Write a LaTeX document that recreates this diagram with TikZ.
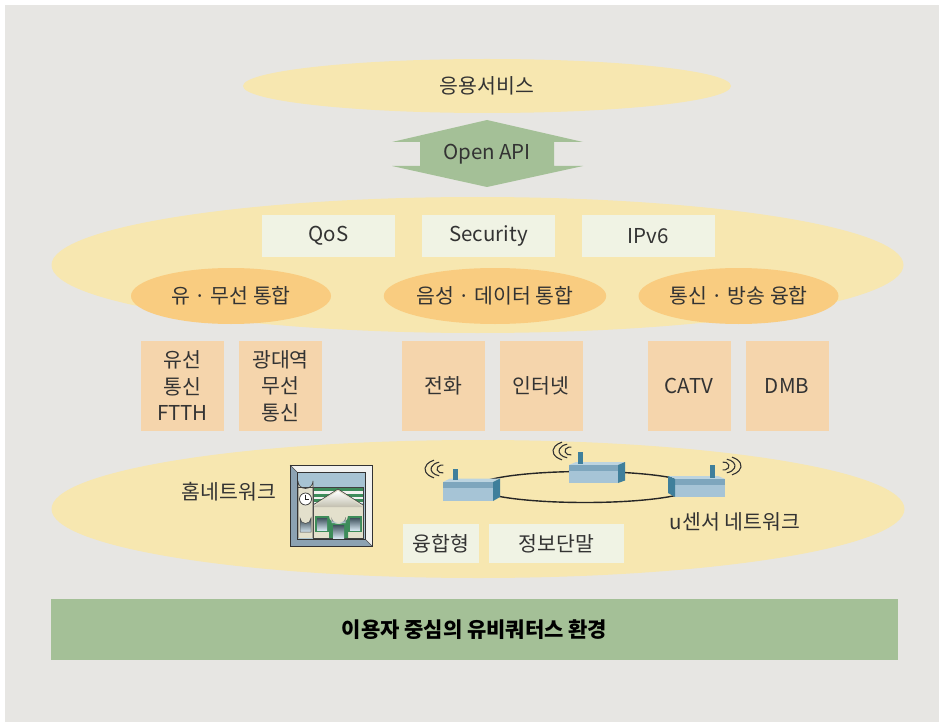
\documentclass[tikz,border=0pt]{standalone}
\usepackage{fontspec}
\setmainfont{Noto Sans CJK KR}
\usetikzlibrary{shapes.geometric}

\definecolor{bg}{HTML}{E7E6E3}
\definecolor{cream}{HTML}{F7E7B0}
\definecolor{orangeel}{HTML}{F9CC80}
\definecolor{peach}{HTML}{F5D5AC}
\definecolor{pale}{HTML}{F0F3E4}
\definecolor{sage}{HTML}{A4C097}
\definecolor{txt}{HTML}{333333}
\definecolor{devfront}{HTML}{A6C4D6}
\definecolor{devband}{HTML}{7EA6BD}
\definecolor{devtop}{HTML}{BCD4E0}
\definecolor{devside}{HTML}{3F7F9B}
\definecolor{sky}{HTML}{A7C3D3}
\definecolor{framedark}{HTML}{8CA2B2}
\definecolor{framelight}{HTML}{F2F2F0}
\definecolor{stone}{HTML}{E3E0CC}
\definecolor{roofgreen}{HTML}{3D8C5A}
\definecolor{glass}{HTML}{8FB9D2}

\tikzset{
  label/.style={text=txt, font=\fontsize{20.5}{26.5}\selectfont, inner sep=0pt, align=center},
  layer/.style={ellipse, fill=cream, inner sep=0pt},
  conv/.style={ellipse, fill=orangeel, inner sep=0pt, minimum width=200, minimum height=56, label},
  feature/.style={rectangle, fill=pale, inner sep=0pt, label},
  netbox/.style={rectangle, fill=peach, inner sep=0pt, minimum width=83, minimum height=90, label},
  ring/.style={draw=black!85, line width=1.4},
  wave/.style={draw=black!80, line width=1.1},
}

\begin{document}
\begin{tikzpicture}[x=1pt,y=-1pt]
\useasboundingbox (0,0) rectangle (939,722);
\fill[white] (0,0) rectangle (939,722);
\fill[bg] (5,5) rectangle (939,722);

% service layer
\node[layer, minimum width=488, minimum height=54] (svc) at (487,86) {};
\node[label] (svctext) at (487,86) {응용서비스};

% Open API double arrow
\fill[sage] (487,120) -- (583,142) -- (554,142) -- (554,166) -- (583,166)
  -- (487,187) -- (392,166) -- (420,166) -- (420,142) -- (392,142) -- cycle;
\node[label] (api) at (487,154) {Open API};

% convergence layer
\node[layer, minimum width=852, minimum height=136] (core) at (477.5,265) {};
\node[feature, minimum width=133, minimum height=42] (qos) at (328.5,236) {QoS};
\node[feature, minimum width=133, minimum height=42] (sec) at (488.5,236) {Security};
\node[feature, minimum width=133, minimum height=42] (ipv6) at (648.5,236) {IPv6};
\node[conv] (wire) at (231,296) {유 · 무선 통합};
\node[conv] (voice) at (495,296) {음성 · 데이터 통합};
\node[conv] (bcast) at (738.5,296) {통신 · 방송 융합};

% access networks
\node[netbox] (ftth) at (182.5,386) {유선\\통신\\FTTH};
\node[netbox] (wibro) at (280.5,386) {광대역\\무선\\통신};
\node[netbox] (phone) at (443,386) {전화};
\node[netbox] (inet) at (541,386) {인터넷};
\node[netbox] (catv) at (689,386) {CATV};
\node[netbox] (dmb) at (787,386) {DMB};

% home / sensor layer
\node[layer, minimum width=853, minimum height=138] (home) at (478,509) {};
\node[label] (homenet) at (229,492) {홈네트워크};
\node[feature, minimum width=76, minimum height=39] (fusion) at (441,543.5) {융합형};
\node[feature, minimum width=135, minimum height=39] (term) at (556.5,543.5) {정보단말};
\node[label] (usn) at (735,522) {u센서 네트워크};

% house icon: bevelled frame
\fill[framedark] (290,465) rectangle (372,546);
\fill[framelight] (290,465) -- (372,465) -- (372,546) -- (365,539) -- (365,472) -- (297,472) -- cycle;
\draw[black!70, line width=0.5] (290,465) -- (297,472) (372,546) -- (365,539);
\draw[black!80, line width=0.7] (290,465) rectangle (372,546);
\fill[sky] (297,472) rectangle (365,539);
% roof stripes
\fill[framelight] (313,487) rectangle (363,503);
\foreach \y in {488,493.5,499} {\fill[roofgreen] (313,\y) rectangle (363,\y+3);}
% gable and walls
\fill[stone] (313,538) -- (313,505) -- (338,489) -- (363,505) -- (363,538) -- cycle;
\shade[top color=white, bottom color=stone!85!black] (313,507) -- (338,491) -- (363,507) -- cycle;
\draw[black!75, line width=0.6] (313,505) -- (338,489) -- (363,505);
\draw[black!75, line width=0.6] (313,487) rectangle (363,538);
% clock tower
\fill[stone] (298,538) -- (298,481) arc[start angle=180, end angle=0, x radius=7.5, y radius=7.5] -- (313,538) -- cycle;
\draw[black!75, line width=0.6] (298,538) -- (298,481) arc[start angle=180, end angle=0, x radius=7.5, y radius=7.5] -- (313,538);
\draw[black!75, line width=0.6] (298,487) -- (313,487);
\fill[white] (305.5,499) circle[radius=6];
\draw[black!80, line width=0.7] (305.5,499) circle[radius=6];
\draw[black!85, line width=0.7] (305.5,494.5) -- (305.5,499) -- (309,499);
\shade[top color=black!65!glass, bottom color=glass!40] (300,532) -- (300,518) arc[start angle=180, end angle=0, x radius=5.5, y radius=5.5] -- (311,532) -- cycle;
\draw[black!70, line width=0.5] (300,532) -- (300,518) arc[start angle=180, end angle=0, x radius=5.5, y radius=5.5] -- (311,532) -- cycle;
% door
\fill[roofgreen] (329,538) -- (329,516) arc[start angle=180, end angle=0, x radius=9.5, y radius=8] -- (348,538) -- cycle;
\shade[top color=black!75, bottom color=glass!50] (331.5,523) -- (331.5,517) arc[start angle=180, end angle=0, x radius=7, y radius=6] -- (345.5,523) -- cycle;
\shade[top color=black!55!glass, bottom color=glass!40] (333,538) rectangle (344,525);
% windows
\fill[roofgreen] (315,516) rectangle (329,532);
\fill[roofgreen] (348,516) rectangle (362,532);
\shade[top color=black!55!glass, bottom color=glass!40] (317,518) rectangle (327,530);
\shade[top color=black!55!glass, bottom color=glass!40] (350,518) rectangle (360,530);
\draw[black!80, line width=0.6] (297,472) rectangle (365,539);

% sensor ring
\draw[ring] (585,487) ellipse[x radius=108, y radius=15.5];

% sensor node 1
\fill[devtop] (443,482) -- (450,478.5) -- (500,478.5) -- (493,482) -- cycle;
\fill[devfront] (443,482) rectangle (493,501);
\fill[devband] (443,482) rectangle (493,488);
\fill[devside] (493,482) -- (500,478.5) -- (500,497) -- (493,501) -- cycle;
\fill[devside] (453,469) rectangle (458,480);
% sensor node 2
\fill[devtop] (569,465) -- (576,462) -- (625,462) -- (618,465) -- cycle;
\fill[devfront] (569,465) rectangle (618,483);
\fill[devband] (569,465) rectangle (618,471);
\fill[devside] (618,465) -- (625,462) -- (625,480.5) -- (618,483) -- cycle;
\fill[devside] (578,452) rectangle (583,464);
% sensor node 3
\fill[devtop] (668,476) -- (675,479) -- (725,479) -- (718,476) -- cycle;
\fill[devfront] (675,479) rectangle (725,497);
\fill[devband] (675,479) rectangle (725,485);
\fill[devside] (668,476) -- (675,479) -- (675,497) -- (668,493) -- cycle;
\fill[devside] (710,465) rectangle (715,478);

% radio waves (open arcs)
\foreach \r/\a in {5/75,11/105,17/118} {
  \draw[wave] (442,469) ++(\a:\r*1 and \r*0.5+1.5) arc[start angle=\a, end angle=360-\a, x radius=\r, y radius=\r*0.5+1.5];
  \draw[wave] (570,451) ++(\a:\r*1 and \r*0.5+1.5) arc[start angle=\a, end angle=360-\a, x radius=\r, y radius=\r*0.5+1.5];
  \draw[wave] (724,466) ++(180+\a:\r*1 and \r*0.5+1.5) arc[start angle=180+\a, end angle=540-\a, x radius=\r, y radius=\r*0.5+1.5];
}

% user environment bar
\fill[sage] (51,599) rectangle (898,660);
\node[label, text=black, font=\fontsize{21}{24}\bfseries] (env) at (474.5,630) {이용자 중심의 유비쿼터스 환경};
\end{tikzpicture}
\end{document}
